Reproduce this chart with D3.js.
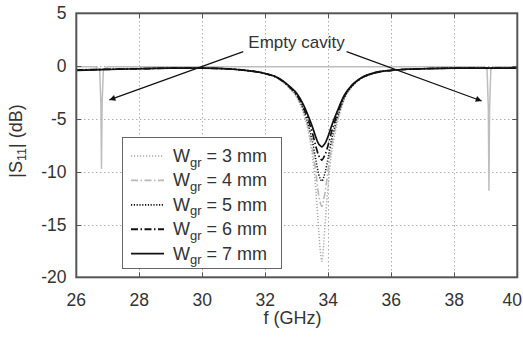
<!DOCTYPE html>
<html><head><meta charset="utf-8">
<script src="https://cdn.jsdelivr.net/npm/d3@7"></script>
<style>
html,body{margin:0;padding:0;background:#fff;}
svg{display:block;}
text{font-family:"Liberation Sans",Arial,sans-serif;fill:#333;}
</style></head>
<body>
<svg id="chart" width="523" height="337"></svg>
<script>
// ---------- data ----------
const xTicks = [26, 28, 30, 32, 34, 36, 38, 40];
const yTicks = [5, 0, -5, -10, -15, -20];
const widths = ["3", "4", "5", "6", "7"];

const freq = [26, 27, 28, 29, 30, 31, 31.5, 32, 32.4, 32.8, 33.0, 33.2, 33.4, 33.5, 33.6, 33.7, 33.75, 33.8,
              33.85, 33.9, 34.0, 34.1, 34.2, 34.35, 34.5, 34.75, 35.0, 35.5, 36, 36.5, 37, 38, 39, 40];

const s11_3mm = [-0.32, -0.27, -0.22, -0.18, -0.18, -0.28, -0.43, -0.72, -1.16, -2.2, -2.96, -4.36, -6.76, -8.58, -11.5, -15.8, -17.6, -18.5,
                 -17.0, -14.9, -11.1, -8.32, -6.57, -4.66, -3.22, -1.96, -1.27, -0.66, -0.42, -0.3, -0.25, -0.2, -0.18, -0.18];
const s11_4mm = [-0.34, -0.28, -0.23, -0.19, -0.19, -0.29, -0.44, -0.72, -1.15, -2.16, -2.89, -4.19, -6.34, -7.84, -9.97, -12.3, -13.0, -13.3,
                 -12.7, -11.9, -9.7, -7.63, -6.17, -4.47, -3.14, -1.93, -1.25, -0.65, -0.41, -0.3, -0.25, -0.2, -0.19, -0.19];
const s11_5mm = [-0.36, -0.3, -0.24, -0.2, -0.2, -0.3, -0.45, -0.71, -1.13, -2.12, -2.81, -4.03, -5.93, -7.17, -8.79, -10.3, -10.7, -10.9,
                 -10.55, -10.07, -8.59, -7.01, -5.78, -4.28, -3.04, -1.9, -1.23, -0.64, -0.41, -0.3, -0.25, -0.2, -0.2, -0.2];
const s11_6mm = [-0.38, -0.31, -0.25, -0.2, -0.2, -0.3, -0.45, -0.71, -1.12, -2.06, -2.7, -3.8, -5.41, -6.39, -7.55, -8.51, -8.73, -8.9,
                 -8.66, -8.37, -7.42, -6.26, -5.29, -4.02, -2.91, -1.85, -1.22, -0.62, -0.4, -0.3, -0.25, -0.2, -0.2, -0.2];
const s11_7mm = [-0.4, -0.32, -0.25, -0.2, -0.2, -0.3, -0.45, -0.7, -1.1, -2.0, -2.6, -3.6, -5.0, -5.8, -6.7, -7.4, -7.55, -7.65,
                 -7.5, -7.3, -6.6, -5.7, -4.9, -3.8, -2.8, -1.8, -1.2, -0.6, -0.4, -0.3, -0.25, -0.2, -0.2, -0.2];

const emptyFreq = [26, 26.6, 26.74, 26.78, 26.8, 26.82, 26.86, 27, 28, 30, 32, 34, 36, 38, 38.9, 39.04, 39.08, 39.1, 39.12, 39.16, 39.3, 40];
const emptyS11  = [-0.05, -0.06, -0.3, -3.5, -9.75, -3.5, -0.3, -0.06, -0.05, -0.05, -0.05, -0.05, -0.05, -0.05, -0.06, -0.3, -4.0, -11.8, -4.0, -0.3, -0.06, -0.05];

const annotation = "Empty cavity";

// ---------- layout ----------
const svg = d3.select("#chart");
const x = d3.scaleLinear().domain([26, 40]).range([76.3, 517.3]);
const y = d3.scaleLinear().domain([-20, 5]).range([277.3, 13.3]);
const [x0, x1] = x.range();
const [yb, yt] = y.range();
const defs = svg.append("defs");
defs.append("clipPath").attr("id", "clip")
  .append("rect").attr("x", x0).attr("y", yt).attr("width", x1 - x0).attr("height", yb - yt);

// grid
const grid = svg.append("g").attr("stroke", "#888").attr("stroke-width", 1).attr("stroke-dasharray", "1,3");
grid.selectAll(".gx").data(xTicks.slice(1, -1)).join("line")
  .attr("x1", d => Math.round(x(d)) + 0.5).attr("x2", d => Math.round(x(d)) + 0.5)
  .attr("y1", yt).attr("y2", yb);
grid.selectAll(".gy").data(yTicks.slice(1, -1)).join("line")
  .attr("y1", d => Math.round(y(d)) + 0.5).attr("y2", d => Math.round(y(d)) + 0.5)
  .attr("x1", x0).attr("x2", x1);

// series
const plot = svg.append("g").attr("clip-path", "url(#clip)");
const line = d3.line().x(d => x(d[0])).y(d => y(d[1])).curve(d3.curveMonotoneX);
const lineLin = d3.line().x(d => x(d[0])).y(d => y(d[1]));

plot.append("path").datum(d3.zip(emptyFreq, emptyS11))
  .attr("fill", "none").attr("stroke", "#bdbdbd").attr("stroke-width", 1.5).attr("d", lineLin);

const styles = [
  {data: s11_3mm, color: "#a8a8a8", dash: "1.2,1.8", w: 1.5},
  {data: s11_4mm, color: "#b8b8b8", dash: "7,2.5,1.5,2.5", w: 1.6},
  {data: s11_5mm, color: "#111", dash: "1.2,1.6", w: 1.5},
  {data: s11_6mm, color: "#111", dash: "7,2.5,1.5,2.5", w: 1.7},
  {data: s11_7mm, color: "#111", dash: null, w: 1.7}
];
styles.forEach(s => {
  plot.append("path").datum(d3.zip(freq, s.data))
    .attr("fill", "none").attr("stroke", s.color).attr("stroke-width", s.w)
    .attr("stroke-dasharray", s.dash).attr("d", line);
});

// frame
svg.append("rect").attr("x", x0).attr("y", yt).attr("width", x1 - x0).attr("height", yb - yt)
  .attr("fill", "none").attr("stroke", "#555").attr("stroke-width", 2);

// ticks (inward, all four sides)
const tk = svg.append("g").attr("stroke", "#555").attr("stroke-width", 1);
xTicks.slice(1, -1).forEach(d => {
  const px = Math.round(x(d)) + 0.5;
  tk.append("line").attr("x1", px).attr("x2", px).attr("y1", yb).attr("y2", yb - 5);
  tk.append("line").attr("x1", px).attr("x2", px).attr("y1", yt).attr("y2", yt + 5);
});
yTicks.slice(1, -1).forEach(d => {
  const py = Math.round(y(d)) + 0.5;
  tk.append("line").attr("y1", py).attr("y2", py).attr("x1", x0).attr("x2", x0 + 5);
  tk.append("line").attr("y1", py).attr("y2", py).attr("x1", x1).attr("x2", x1 - 5);
});

// tick labels
svg.append("g").selectAll("text").data(xTicks).join("text")
  .attr("x", (d, i) => i === xTicks.length - 1 ? 522 : x(d))
  .attr("y", 306)
  .attr("text-anchor", (d, i) => i === xTicks.length - 1 ? "end" : "middle")
  .attr("font-size", 17.5).text(d => d);
svg.append("g").selectAll("text").data(yTicks).join("text")
  .attr("x", 66.5).attr("y", d => y(d) + 6).attr("text-anchor", "end")
  .attr("font-size", 17.5).text(d => d);

// axis titles
svg.append("text").attr("x", 292.5).attr("y", 324).attr("text-anchor", "middle")
  .attr("font-size", 18).text("f (GHz)");
const ytt = svg.append("text").attr("transform", "translate(21.5,141) rotate(-90)")
  .attr("text-anchor", "middle").attr("font-size", 18);
ytt.append("tspan").text("|S");
ytt.append("tspan").attr("font-size", 12.5).attr("dy", 4.5).text("11");
ytt.append("tspan").attr("dy", -4.5).text("| (dB)");

// legend
const lg = svg.append("g");
lg.append("rect").attr("x", 122.5).attr("y", 137.5).attr("width", 159).attr("height", 131)
  .attr("fill", "#fff").attr("stroke", "#666").attr("stroke-width", 1);
styles.forEach((s, i) => {
  const cy = 156 + i * 24.4;
  lg.append("line").attr("x1", 131).attr("x2", 164).attr("y1", cy).attr("y2", cy)
    .attr("stroke", s.color).attr("stroke-width", s.w + 0.2).attr("stroke-dasharray", s.dash);
  const t = lg.append("text").attr("x", 173).attr("y", cy + 6).attr("font-size", 18);
  t.append("tspan").text("W");
  t.append("tspan").attr("font-size", 13).attr("dy", 4.5).text("gr");
  t.append("tspan").attr("dy", -4.5).text(" = " + widths[i] + " mm");
});

// annotation
svg.append("text").attr("x", 296.5).attr("y", 48).attr("text-anchor", "middle")
  .attr("font-size", 17).text(annotation);
defs.append("marker").attr("id", "ah").attr("viewBox", "0 0 10 10").attr("refX", 10).attr("refY", 5)
  .attr("markerWidth", 9).attr("markerHeight", 6).attr("markerUnits", "userSpaceOnUse").attr("orient", "auto")
  .append("path").attr("d", "M0,0 L10,5 L0,10 Z").attr("fill", "#111");
const arrows = [
  {from: [31.3, 1.37], to: [27.05, -3.2]},
  {from: [34.58, 1.37], to: [38.87, -3.3]}
];
svg.append("g").selectAll("line").data(arrows).join("line")
  .attr("x1", d => x(d.from[0])).attr("y1", d => y(d.from[1]))
  .attr("x2", d => x(d.to[0])).attr("y2", d => y(d.to[1]))
  .attr("stroke", "#111").attr("stroke-width", 1.2).attr("marker-end", "url(#ah)");
</script>
</body></html>
